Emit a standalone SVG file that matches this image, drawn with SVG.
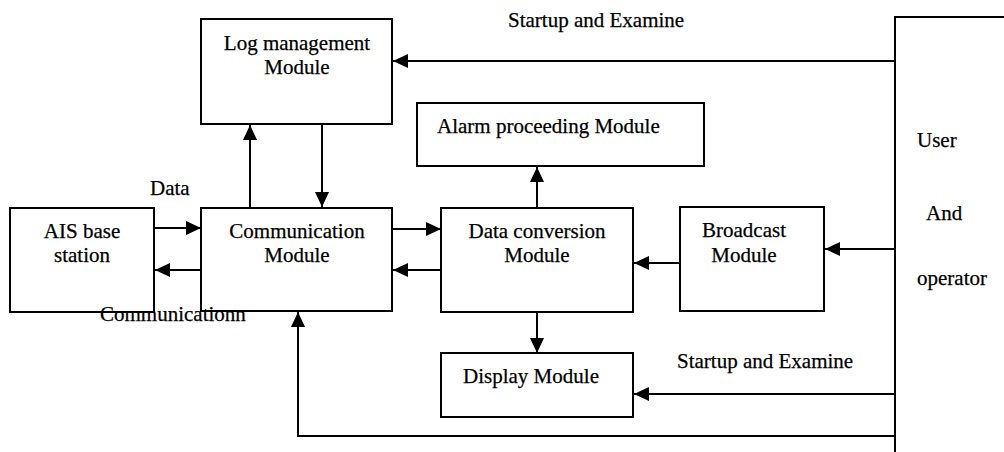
<svg xmlns="http://www.w3.org/2000/svg" width="1004" height="452" viewBox="0 0 1004 452">
  <style>
    .box { fill: #fff; stroke: #000; stroke-width: 2; }
    .line { fill: none; stroke: #000; stroke-width: 2; }
    .arrow { fill: none; stroke: #000; stroke-width: 2; marker-end: url(#head); }
    text { font-family: "Liberation Serif", "Times New Roman", serif; font-size: 21px; fill: #000; stroke: #000; stroke-width: 0.25; }
    .c { text-anchor: middle; }
  </style>
  <defs>
    <marker id="head" markerUnits="userSpaceOnUse" markerWidth="16" markerHeight="14" refX="15" refY="7" orient="auto">
      <path d="M0,0 L15,7 L0,14 Z" fill="#000"/>
    </marker>
  </defs>

  <rect width="1004" height="452" fill="#fff"/>

  <!-- connectors -->
  <g id="connectors">
    <!-- user/operator bracket -->
    <path class="line" d="M1004,17 H895 V452"/>
    <!-- startup and examine to log management -->
    <line class="arrow" x1="895" y1="61" x2="393" y2="61"/>
    <!-- log management <-> communication -->
    <line class="arrow" x1="250" y1="208" x2="250" y2="125"/>
    <line class="arrow" x1="322" y1="125" x2="322" y2="207"/>
    <!-- AIS <-> communication -->
    <line class="arrow" x1="155" y1="228" x2="201" y2="228"/>
    <line class="arrow" x1="201" y1="270" x2="155" y2="270"/>
    <!-- communication <-> data conversion -->
    <line class="arrow" x1="392" y1="229" x2="441" y2="229"/>
    <line class="arrow" x1="441" y1="270" x2="393" y2="270"/>
    <!-- data conversion -> alarm / display -->
    <line class="arrow" x1="537" y1="208" x2="537" y2="167"/>
    <line class="arrow" x1="537" y1="312" x2="537" y2="353"/>
    <!-- broadcast -> data conversion -->
    <line class="arrow" x1="680" y1="263" x2="634" y2="263"/>
    <!-- user -> broadcast -->
    <line class="arrow" x1="895" y1="249" x2="825" y2="249"/>
    <!-- user -> display -->
    <line class="arrow" x1="895" y1="394" x2="634" y2="394"/>
    <!-- user -> communication (bottom loop) -->
    <path class="arrow" d="M895,436 H298 V312"/>
  </g>

  <g id="log-management">
    <rect class="box" x="201" y="19" width="191" height="105"/>
    <text class="c" x="297" y="50">Log management</text>
    <text class="c" x="297" y="74">Module</text>
  </g>

  <g id="alarm">
    <rect class="box" x="417" y="103" width="287" height="63"/>
    <text x="437" y="133">Alarm proceeding Module</text>
  </g>

  <g id="ais">
    <rect class="box" x="10" y="208" width="144" height="104"/>
    <text class="c" x="82" y="238">AIS base</text>
    <text class="c" x="82" y="262">station</text>
  </g>

  <g id="communication">
    <rect class="box" x="201" y="208" width="191" height="103"/>
    <text class="c" x="297" y="238">Communication</text>
    <text class="c" x="297" y="262">Module</text>
  </g>

  <g id="data-conversion">
    <rect class="box" x="441" y="208" width="192" height="104"/>
    <text class="c" x="537" y="238">Data conversion</text>
    <text class="c" x="537" y="262">Module</text>
  </g>

  <g id="broadcast">
    <rect class="box" x="680" y="207" width="144" height="104"/>
    <text class="c" x="744" y="237">Broadcast</text>
    <text class="c" x="744" y="262">Module</text>
  </g>

  <g id="display">
    <rect class="box" x="441" y="353" width="192" height="64"/>
    <text class="c" x="531" y="383">Display Module</text>
  </g>

  <g id="user-operator">
    <text x="917" y="147">User</text>
    <text x="926" y="220">And</text>
    <text x="917" y="285">operator</text>
  </g>

  <!-- connector labels -->
  <g id="labels">
    <text x="508" y="27">Startup and Examine</text>
    <text x="150" y="195">Data</text>
    <text x="100" y="321">Communicationn</text>
    <text x="677" y="368">Startup and Examine</text>
  </g>
</svg>
